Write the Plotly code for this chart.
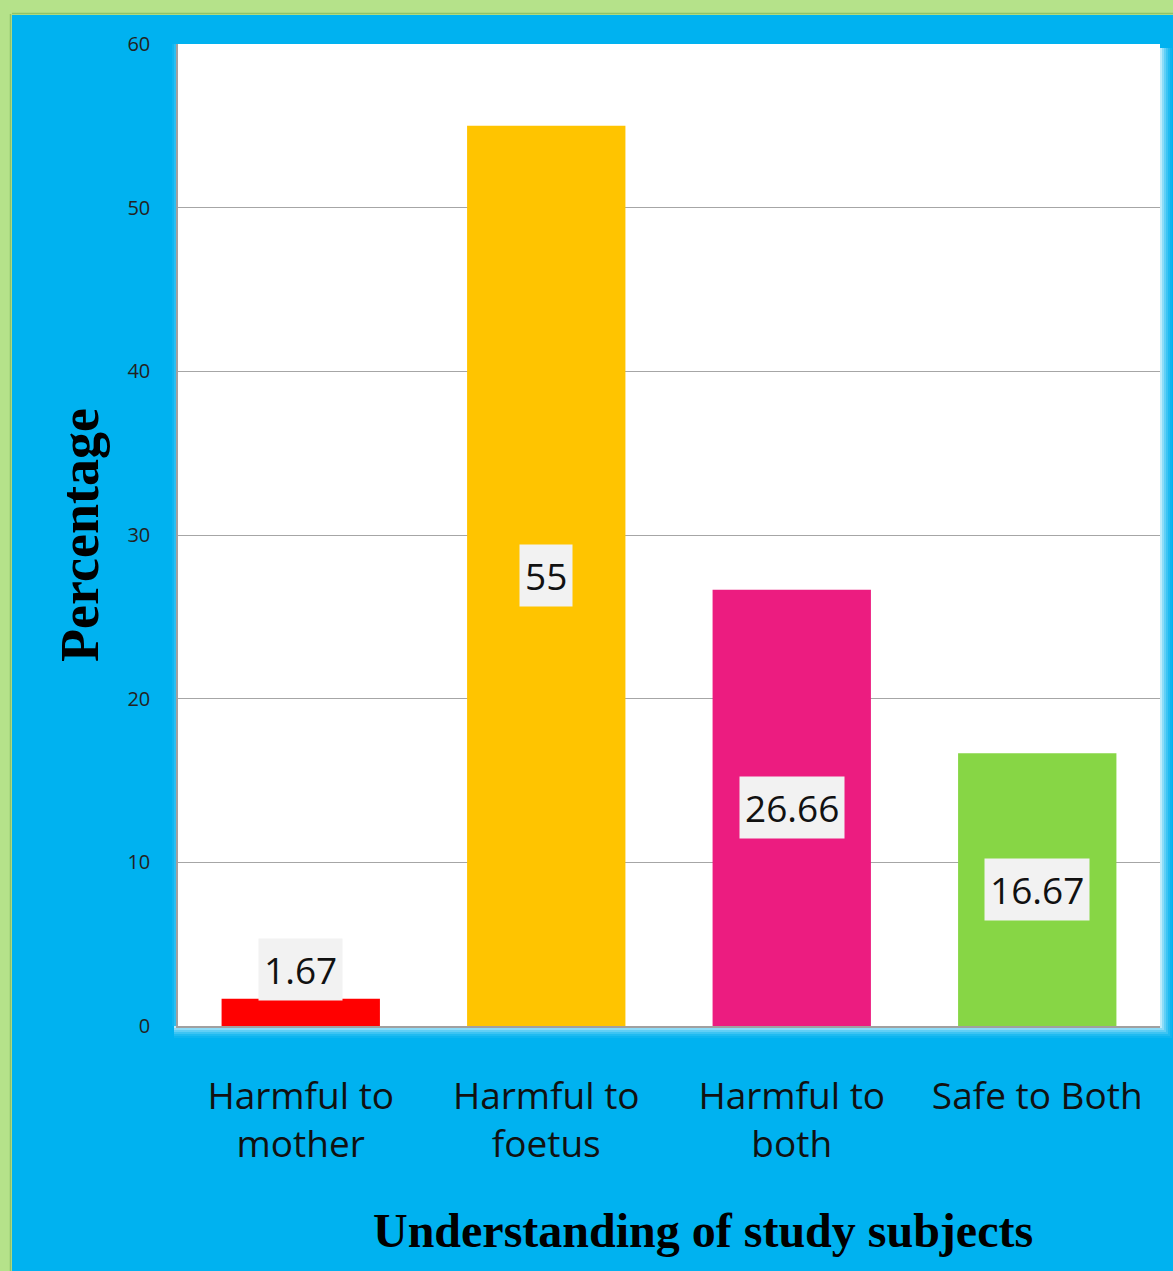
import plotly.graph_objects as go

categories = ["Harmful to<br>mother", "Harmful to<br>foetus", "Harmful to<br>both", "Safe to Both"]
values = [1.67, 55, 26.66, 16.67]
labels = ["1.67", "55", "26.66", "16.67"]
colors = ["#ff0000", "#ffc400", "#ec1c80", "#87d645"]
y_ticks = [0, 10, 20, 30, 40, 50, 60]

W, H = 1173, 1271
L, R, T, B = 178, 13, 44, 245
pw, ph = W - L - R, H - T - B

def px_x(x):
    return (x - L) / pw

def px_y(y):
    return (H - B - y) / ph

fig = go.Figure()
fig.add_trace(go.Bar(x=categories, y=values, marker=dict(color=colors, line=dict(width=0)),
                     width=0.645, hoverinfo="skip"))

lab_font = dict(family="Open Sans", size=37, color="#111")
for c, v, t in zip(categories, values, labels):
    if v < 5:
        fig.add_annotation(x=c, y=v, yanchor="bottom", yshift=-2, text=t, showarrow=False,
                           bgcolor="#f2f2f2", borderpad=5, font=lab_font)
    else:
        fig.add_annotation(x=c, y=v / 2, text=t, showarrow=False,
                           bgcolor="#f2f2f2", borderpad=5, font=lab_font)

# background: green border strips around blue panel
fig.add_shape(type="rect", xref="paper", yref="paper", x0=px_x(0), x1=px_x(W), y0=px_y(0), y1=px_y(15),
              fillcolor="#b5e28a", line=dict(width=0), layer="below")
fig.add_shape(type="rect", xref="paper", yref="paper", x0=px_x(0), x1=px_x(12), y0=px_y(0), y1=px_y(H),
              fillcolor="#b5e28a", line=dict(width=0), layer="below")
fig.add_shape(type="line", xref="paper", yref="paper", x0=px_x(12), x1=px_x(W), y0=px_y(13.5), y1=px_y(13.5),
              line=dict(color="#8fc26a", width=1.5), layer="below")
fig.add_shape(type="line", xref="paper", yref="paper", x0=px_x(10.5), x1=px_x(10.5), y0=px_y(14), y1=px_y(H),
              line=dict(color="#8fc26a", width=1.5), layer="below")

# soft glow around plot area (bottom, right, left)
glow = [0.75, 0.55, 0.38, 0.24, 0.12, 0.05]
for i, op in enumerate(glow):
    d0, d1 = 2 * i, 2 * i + 2
    fig.add_shape(type="rect", xref="paper", yref="paper", x0=px_x(178 - 4), x1=px_x(1160 + d1),
                  y0=px_y(1026 + d1), y1=px_y(1026 + d0), fillcolor="white", opacity=op,
                  line=dict(width=0), layer="below")
    fig.add_shape(type="rect", xref="paper", yref="paper", x0=px_x(1160 + d0), x1=px_x(1160 + d1),
                  y0=px_y(1026 + d0), y1=px_y(48), fillcolor="white", opacity=op,
                  line=dict(width=0), layer="below")
for i, op in enumerate([0.3, 0.16, 0.06]):
    d0, d1 = 2 * i, 2 * i + 2
    fig.add_shape(type="rect", xref="paper", yref="paper", x0=px_x(178 - d1), x1=px_x(178 - d0),
                  y0=px_y(1026), y1=px_y(44), fillcolor="white", opacity=op,
                  line=dict(width=0), layer="below")

fig.add_annotation(xref="paper", yref="paper", x=px_x(703), y=px_y(1230), xanchor="center", yanchor="middle",
                   text="<b>Understanding of study subjects</b>",
                   showarrow=False, font=dict(family="Liberation Serif", size=48, color="#000"))
fig.add_annotation(xref="paper", yref="paper", x=px_x(80), y=px_y(535), xanchor="center", yanchor="middle",
                   text="<b>Percentage</b>", textangle=-90,
                   showarrow=False, font=dict(family="Liberation Serif", size=54, color="#000"))

fig.update_layout(
    width=W, height=H,
    margin=dict(l=L, r=R, t=T, b=B, autoexpand=False),
    paper_bgcolor="#00b2f0",
    plot_bgcolor="#ffffff",
    showlegend=False,
    bargap=0.35,
    xaxis=dict(showgrid=False, showline=True, linecolor="#a0a0a0", linewidth=1.5,
               tickfont=dict(family="Open Sans", size=37, color="#111"), ticks="", ticklabelstandoff=37),
    yaxis=dict(range=[0, 60], tickvals=y_ticks, showgrid=True, gridcolor="#a6a6a6", gridwidth=1,
               showline=True, linecolor="#a0a0a0", linewidth=1.5, zeroline=False,
               tickfont=dict(family="Open Sans", size=20, color="#222"), ticks="", ticklabelstandoff=22),
)

fig.write_html("out.html", config={"displayModeBar": False},
               post_script="document.body.style.margin='0';document.body.style.overflow='hidden';")
